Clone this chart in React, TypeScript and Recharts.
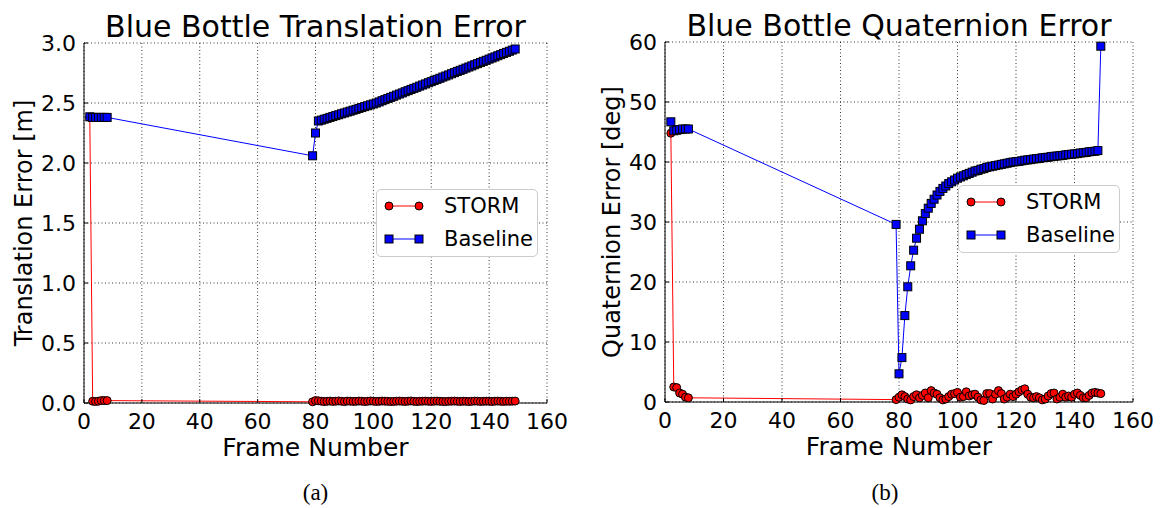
import React from 'react';
import { LineChart, Line, XAxis, YAxis, CartesianGrid, Legend } from 'recharts';

// frame indices shared by both panels
const frames = [
  2, 3, 4, 5, 6, 7, 8,
  79, 80, 81, 82, 83, 84, 85, 86, 87, 88, 89, 90, 91, 92, 93, 94, 95, 96, 97, 98, 99,
  100, 101, 102, 103, 104, 105, 106, 107, 108, 109, 110, 111, 112, 113, 114, 115, 116, 117, 118, 119,
  120, 121, 122, 123, 124, 125, 126, 127, 128, 129, 130, 131, 132, 133, 134, 135, 136, 137, 138, 139,
  140, 141, 142, 143, 144, 145, 146, 147, 148, 149,
];

// (a) translation error [m]
const transStorm = [
  2.38, 0.015, 0.012, 0.015, 0.02, 0.02, 0.02,
  0.010, 0.020, 0.018, 0.015, 0.012, 0.014, 0.016, 0.013, 0.015, 0.017,
  0.014, 0.012, 0.016, 0.015, 0.013, 0.014, 0.016, 0.015, 0.012, 0.014,
  0.017, 0.015, 0.013, 0.014, 0.016, 0.015, 0.014, 0.012, 0.013, 0.015,
  0.016, 0.014, 0.013, 0.015, 0.017, 0.014, 0.012, 0.014, 0.015, 0.016,
  0.014, 0.013, 0.015, 0.016, 0.014, 0.013, 0.012, 0.014, 0.015, 0.016,
  0.014, 0.013, 0.015, 0.014, 0.012, 0.014, 0.016, 0.015, 0.013, 0.014,
  0.015, 0.014, 0.013, 0.015, 0.016, 0.014, 0.013, 0.015, 0.014, 0.015,
  0.016,
];
const transBaseline = [
  2.385, 2.38, 2.38, 2.38, 2.38, 2.38, 2.38,
  2.06, 2.25,
  2.350, 2.357, 2.365, 2.372, 2.380, 2.387, 2.395, 2.402, 2.410, 2.417,
  2.425, 2.432, 2.440, 2.447, 2.455, 2.462, 2.470, 2.477, 2.485, 2.492,
  2.500, 2.509, 2.519, 2.528, 2.538, 2.547, 2.556, 2.566, 2.575, 2.584,
  2.594, 2.603, 2.613, 2.622, 2.631, 2.641, 2.650, 2.659, 2.669, 2.678,
  2.688, 2.697, 2.706, 2.716, 2.725, 2.734, 2.744, 2.753, 2.763, 2.772,
  2.781, 2.791, 2.800, 2.809, 2.819, 2.828, 2.838, 2.847, 2.856, 2.866,
  2.875, 2.884, 2.894, 2.903, 2.913, 2.922, 2.931, 2.941, 2.950,
];

// (b) quaternion error [deg]
const quatStorm = [
  44.8, 2.5, 2.4, 1.5, 1.3, 0.8, 0.7,
  0.4, 0.8, 1.2, 0.9, 0.5, 0.35, 0.9, 1.2, 0.7, 1.1,
  1.5, 0.7, 1.9, 1.5, 1.3, 0.7, 0.35, 0.5, 0.9, 1.3,
  1.4, 1.6, 0.8, 0.9, 1.7, 1.0, 1.2, 1.3, 0.8, 0.35,
  0.25, 1.4, 1.4, 0.5, 1.3, 1.9, 1.4, 0.5, 0.8, 1.3,
  0.9, 1.3, 1.7, 2.0, 2.2, 1.3, 0.8, 0.7, 0.9, 0.7,
  0.35, 0.5, 1.0, 1.4, 1.5, 0.5, 0.8, 1.3, 0.8, 1.0,
  0.8, 1.3, 1.5, 1.1, 0.7, 0.7, 1.1, 1.5, 1.6, 1.5,
  1.4,
];
const quatBaseline = [
  46.7, 45.2, 45.3, 45.4, 45.5, 45.5, 45.5,
  29.6, 4.7, 7.4, 14.4, 19.2, 22.7, 25.3, 27.3, 28.8, 30.2, 31.4, 32.3, 33.1,
  33.8, 34.5, 35.1, 35.6, 36.0, 36.4, 36.7, 37.0, 37.3, 37.5,
  37.7, 37.9, 38.1, 38.3, 38.5, 38.6, 38.8, 38.9, 39.1, 39.2,
  39.3, 39.4, 39.5, 39.6, 39.7, 39.8, 39.9, 40.0, 40.05, 40.1,
  40.2, 40.3, 40.35, 40.4, 40.5, 40.55, 40.6, 40.7, 40.75, 40.8,
  40.9, 40.95, 41.0, 41.05, 41.1, 41.2, 41.25, 41.3, 41.35, 41.4,
  41.5, 41.55, 41.6, 41.7, 41.75, 41.8, 41.9,
  59.3,
];

const xTicks = [0, 20, 40, 60, 80, 100, 120, 140, 160];
const transTicks = [0, 0.5, 1.0, 1.5, 2.0, 2.5, 3.0];
const quatTicks = [0, 10, 20, 30, 40, 50, 60];

const FONT = 'DejaVu Sans';
const tickStyle = { fill: '#000', fontSize: 22, fontFamily: FONT };

const SquareDot = (props: any) => {
  const { cx, cy, index } = props;
  if (cx == null || cy == null) return null;
  return (
    <rect key={`sq-${index}`} x={cx - 4} y={cy - 4} width={8} height={8}
      fill="#0000ff" stroke="#000" strokeWidth={1} />
  );
};

const LegendBox = () => (
  <div style={{
    width: 160, height: 66, background: '#fff', border: '1px solid #cccccc',
    borderRadius: 5, fontFamily: FONT, fontSize: 21, color: '#000', position: 'relative',
  }}>
    <svg width={60} height={66} style={{ position: 'absolute', left: 0, top: 0 }}>
      <line x1={12} y1={16} x2={42} y2={16} stroke="#ff0000" strokeWidth={1} />
      <circle cx={12} cy={16} r={4} fill="#ff0000" stroke="#000" />
      <circle cx={42} cy={16} r={4} fill="#ff0000" stroke="#000" />
      <line x1={12} y1={49} x2={42} y2={49} stroke="#0000ff" strokeWidth={1} />
      <rect x={8} y={45} width={8} height={8} fill="#0000ff" stroke="#000" />
      <rect x={38} y={45} width={8} height={8} fill="#0000ff" stroke="#000" />
    </svg>
    <div style={{ position: 'absolute', left: 67, top: 3, lineHeight: '26px' }}>STORM</div>
    <div style={{ position: 'absolute', left: 67, top: 36, lineHeight: '26px' }}>Baseline</div>
  </div>
);

interface PanelProps {
  storm: number[];
  baseline: number[];
  yDomain: [number, number];
  yTicks: number[];
  yFormat: (v: number) => string;
  width: number;
  margin: { top: number; right: number; left: number; bottom: number };
  legendPos: { left: number; top: number };
}

const Panel: React.FC<PanelProps> = ({ storm, baseline, yDomain, yTicks, yFormat, width, margin, legendPos }) => {
  const data = frames.map((f, i) => ({ frame: f, storm: storm[i], baseline: baseline[i] }));
  return (
    <LineChart width={width} height={508} data={data} margin={margin}>
      <CartesianGrid stroke="#000" strokeDasharray="1 2.5" strokeWidth={0.8} />
      <XAxis dataKey="frame" type="number" domain={[0, 160]} ticks={xTicks} interval={0}
        height={60} tick={tickStyle} tickSize={-4} tickMargin={14}
        stroke="#000" axisLine={{ stroke: '#000', strokeWidth: 1 }} />
      <XAxis xAxisId="top" orientation="top" dataKey="frame" type="number" domain={[0, 160]}
        ticks={xTicks} height={0} tick={false} tickSize={-4} stroke="#000" />
      <YAxis type="number" domain={yDomain} ticks={yTicks} interval={0} width={60}
        tick={tickStyle} tickFormatter={yFormat} tickSize={-4} tickMargin={12}
        stroke="#000" />
      <YAxis yAxisId="right" orientation="right" type="number" domain={yDomain} ticks={yTicks}
        width={0} tick={false} tickSize={-4} stroke="#000" />
      {/* middle/center keeps the legend from eating into the plot area */}
      <Legend layout="horizontal" verticalAlign="middle" align="center" content={() => <LegendBox />}
        wrapperStyle={{ left: legendPos.left, top: legendPos.top, width: 162, height: 68 }} />
      <Line dataKey="storm" name="STORM" type="linear" stroke="#ff0000" strokeWidth={1}
        dot={{ r: 4, fill: '#ff0000', stroke: '#000', strokeWidth: 1 }} isAnimationActive={false} />
      <Line dataKey="baseline" name="Baseline" type="linear" stroke="#0000ff" strokeWidth={1}
        dot={SquareDot} isAnimationActive={false} />
    </LineChart>
  );
};

export default function App() {
  return (
    <div style={{ position: 'absolute', left: 0, top: 0, width: 1161, height: 508, background: '#fff' }}>
      <div style={{ position: 'absolute', left: 0, top: 0 }}>
        <Panel storm={transStorm} baseline={transBaseline} yDomain={[0, 3]} yTicks={transTicks}
          yFormat={(v) => v.toFixed(1)} width={580}
          margin={{ top: 43, right: 33, left: 24, bottom: 45 }} legendPos={{ left: 376, top: 189 }} />
      </div>
      <div style={{ position: 'absolute', left: 580, top: 0 }}>
        <Panel storm={quatStorm} baseline={quatBaseline} yDomain={[0, 60]} yTicks={quatTicks}
          yFormat={(v) => String(v)} width={581}
          margin={{ top: 42, right: 28, left: 25, bottom: 46 }} legendPos={{ left: 378, top: 185 }} />
      </div>
      <svg width={1161} height={508} style={{ position: 'absolute', left: 0, top: 0, pointerEvents: 'none' }}>
        <g fontFamily={FONT} fill="#000">
          <text x={315.5} y={37} fontSize={30} textAnchor="middle">Blue Bottle Translation Error</text>
          <text x={899} y={36} fontSize={30} textAnchor="middle">Blue Bottle Quaternion Error</text>
          <text x={315.5} y={456} fontSize={25} textAnchor="middle">Frame Number</text>
          <text x={899} y={455} fontSize={25} textAnchor="middle">Frame Number</text>
          <text x={32} y={223} fontSize={24} textAnchor="middle" transform="rotate(-90 32 223)">Translation Error [m]</text>
          <text x={620} y={222} fontSize={24} textAnchor="middle" transform="rotate(-90 620 222)">Quaternion Error [deg]</text>
        </g>
        <g fontFamily="Liberation Serif" fontSize={23} fill="#000">
          <text x={315.5} y={500} textAnchor="middle">(a)</text>
          <text x={885} y={500} textAnchor="middle">(b)</text>
        </g>
      </svg>
    </div>
  );
}
